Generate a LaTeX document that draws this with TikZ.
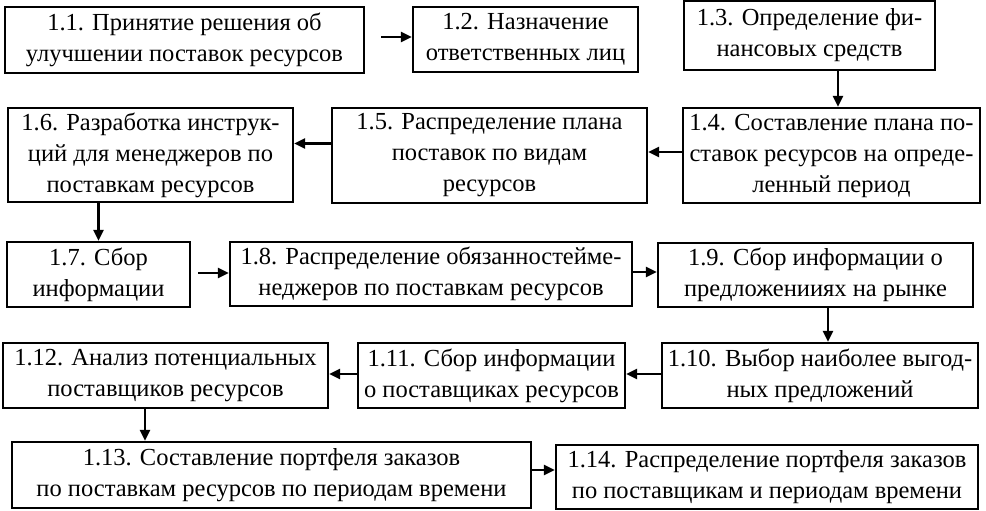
\documentclass[tikz,border=0pt]{standalone}
\usepackage{fontspec}
\setmainfont{Liberation Serif}
\usetikzlibrary{arrows.meta}
\tikzset{
  box/.style={draw, line width=2.2pt, rectangle, inner sep=1pt, align=center,
    font=\fontsize{24.5}{31}\selectfont},
  arr/.style={line width=2.2pt, -{Triangle[length=11pt,width=10pt]}}
}
\begin{document}
\begin{tikzpicture}[x=1pt,y=-1pt]
\useasboundingbox (0,0) rectangle (986,511);
% row 1
\node[box, minimum width=359pt, minimum height=66pt] (n11) at (184.5,40) {1.1. Принятие решения об\\улучшении поставок ресурсов};
\node[box, minimum width=225pt, minimum height=65pt] (n12) at (525.5,39.5) {1.2. Назначение\\ответственных лиц};
\node[box, minimum width=251pt, minimum height=69pt] (n13) at (809.5,35.5) {1.3. Определение фи-\\нансовых средств};
% row 2
\node[box, minimum width=285pt, minimum height=94pt] (n16) at (150.5,155) {1.6. Разработка инструк-\\ций для менеджеров по\\поставкам ресурсов};
\node[box, minimum width=315pt, minimum height=95pt] (n15) at (489.5,155.5) {1.5. Распределение плана\\поставок по видам\\ресурсов};
\node[box, minimum width=297pt, minimum height=95pt] (n14) at (831.5,155.5) {1.4. Составление плана по-\\ставок ресурсов на опреде-\\ленный период};
% row 3
\node[box, minimum width=183pt, minimum height=65pt] (n17) at (98.5,274.5) {1.7. Сбор\\информации};
\node[box, minimum width=402pt, minimum height=64pt] (n18) at (431,274) {1.8. Распределение обязанностейме-\\неджеров по поставкам ресурсов};
\node[box, minimum width=315pt, minimum height=64pt] (n19) at (815.5,275) {1.9. Сбор информации о\\предложенииях на рынке};
% row 4
\node[box, minimum width=325pt, minimum height=65pt] (n112) at (165.5,375.5) {1.12. Анализ потенциальных\\поставщиков ресурсов};
\node[box, minimum width=267pt, minimum height=65pt] (n111) at (491.5,375.5) {1.11. Сбор информации\\о поставщиках ресурсов};
\node[box, minimum width=316pt, minimum height=65pt] (n110) at (820,375.5) {1.10. Выбор наиболее выгод-\\ных предложений};
% row 5
\node[box, minimum width=519pt, minimum height=66pt] (n113) at (271.5,475) {1.13. Составление портфеля заказов\\по поставкам ресурсов по периодам времени};
\node[box, minimum width=422pt, minimum height=64pt] (n114) at (767,477) {1.14. Распределение портфеля заказов\\по поставщикам и периодам времени};
% connectors
\draw[arr, shorten <=16pt] ([yshift=3pt]n11.east) -- ([yshift=3pt]n11.east -| n12.west);
\draw[arr] ([xshift=28.5pt]n13.south) -- ([xshift=28.5pt]n13.south |- n14.north);
\draw[arr] ([yshift=3.5pt]n14.west) -- ([yshift=3.5pt]n14.west -| n15.east);
\draw[arr] ([yshift=12pt]n15.west) -- ([yshift=12pt]n15.west -| n16.east);
\draw[arr] (n16.south -| n17.north) -- (n17.north);
\draw[arr, shorten <=7pt] ([yshift=1.5pt]n17.east) -- ([yshift=1.5pt]n17.east -| n18.west);
\draw[arr] ([yshift=2pt]n18.east) -- ([yshift=2pt]n18.east -| n19.west);
\draw[arr] ([xshift=12.5pt]n19.south) -- ([xshift=12.5pt]n19.south |- n110.north);
\draw[arr] ([yshift=1.5pt]n110.west) -- ([yshift=1.5pt]n110.west -| n111.east);
\draw[arr] ([yshift=1.5pt]n111.west) -- ([yshift=1.5pt]n111.west -| n112.east);
\draw[arr] ([xshift=-20.5pt]n112.south) -- ([xshift=-20.5pt]n112.south |- n113.north);
\draw[arr] ([yshift=5pt]n113.east) -- ([yshift=5pt]n113.east -| n114.west);
\end{tikzpicture}
\end{document}
